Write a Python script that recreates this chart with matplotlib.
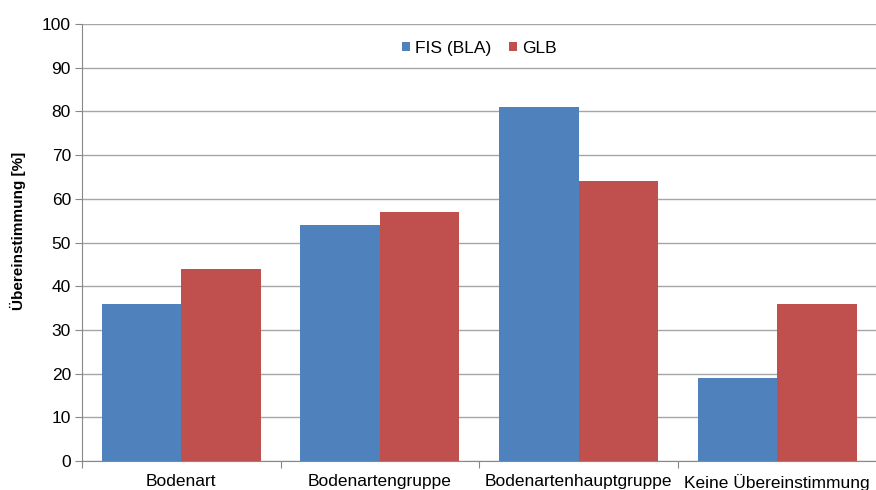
import numpy as np
import matplotlib.pyplot as plt
from matplotlib.ticker import FixedLocator

plt.rcParams['font.family'] = ['Liberation Sans', 'DejaVu Sans']

# Daten
kategorien = ['Bodenart', 'Bodenartengruppe', 'Bodenartenhauptgruppe', 'Keine Übereinstimmung']
fis_bla = [36, 54, 81, 19]
glb = [44, 57, 64, 36]
serien = ['FIS (BLA)', 'GLB']

fig = plt.figure(figsize=(8.76, 4.9), dpi=100)
ax = fig.add_axes([0.0936, 0.059, 0.907, 0.892])

x = np.arange(len(kategorien))
breite = 0.4
ax.bar(x - breite / 2, fis_bla, breite, color='#4F81BD', label=serien[0], zorder=3)
ax.bar(x + breite / 2, glb, breite, color='#C0504D', label=serien[1], zorder=3)

ax.set_xlim(-0.5, len(kategorien) - 0.5)
ax.set_ylim(0, 100)
ax.set_yticks(np.arange(0, 101, 10))
ax.yaxis.grid(True, color='#A6A6A6', linewidth=1, zorder=0)

# Striche an den Kategoriegrenzen, Beschriftung in der Mitte
ax.set_xticks(np.arange(-0.5, len(kategorien)), labels=[''] * (len(kategorien) + 1))
ax.xaxis.set_minor_locator(FixedLocator(x))
ax.set_xticks(x, labels=kategorien, minor=True)
ax.tick_params(axis='x', which='minor', length=0, labelsize=12.5, pad=9)
ax.tick_params(axis='x', which='major', length=5, color='#888888')
ax.tick_params(axis='y', length=5, color='#888888', labelsize=12.5, pad=3)

for s in ['top', 'right']:
    ax.spines[s].set_visible(False)
for s in ['left', 'bottom']:
    ax.spines[s].set_color('#888888')

ax.set_ylabel('Übereinstimmung [%]', fontsize=11, fontweight='bold')
ax.yaxis.set_label_coords(-0.071, 0.526)

ax.legend(loc='upper center', bbox_to_anchor=(0.5, 0.997), ncol=2, frameon=False,
          fontsize=12.5, handlelength=0.45, handleheight=0.45, handletextpad=0.3,
          columnspacing=1.0)

fig.savefig('out.png', dpi=100)
